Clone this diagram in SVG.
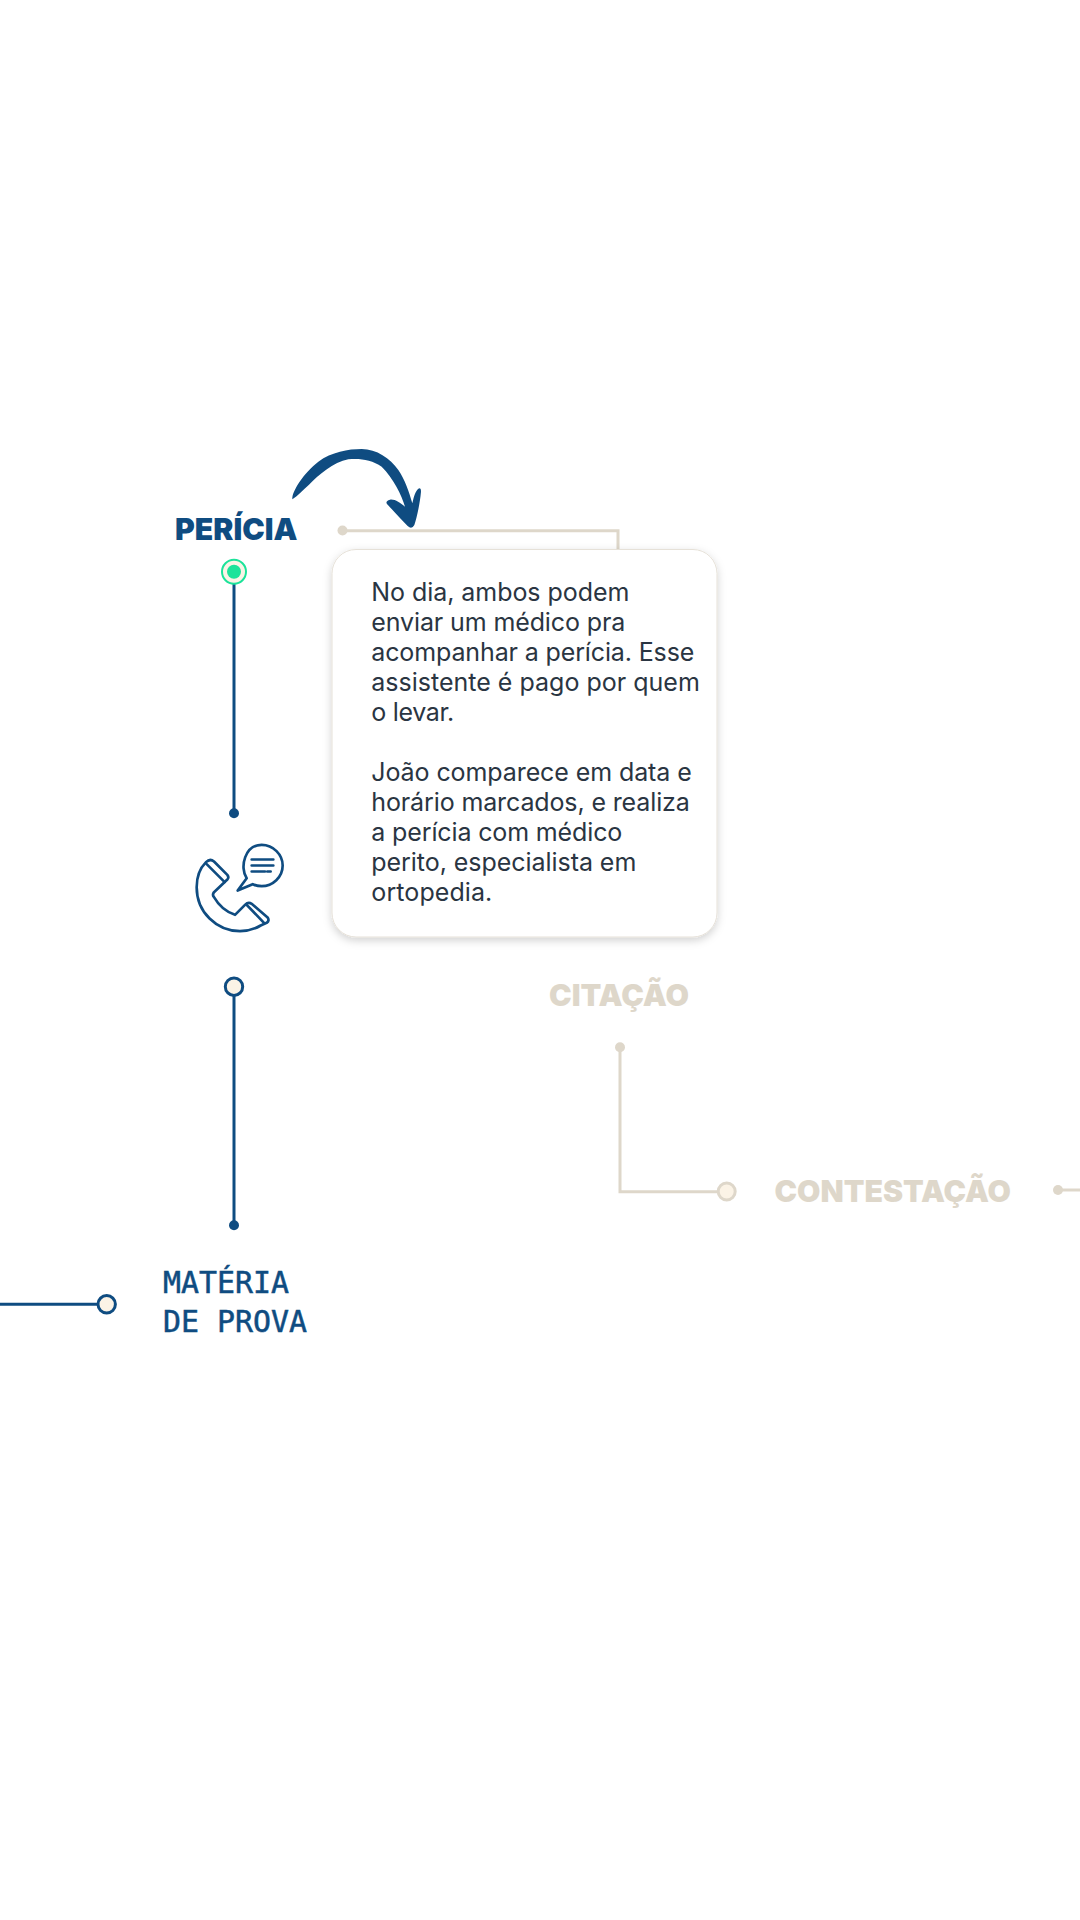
<svg xmlns="http://www.w3.org/2000/svg" width="1080" height="1920" viewBox="0 0 1080 1920">
<defs>
<style>
.blue{stroke:#0F4C81;fill:none}
.sand{stroke:#DED7CA;fill:none}
.ln{stroke-width:3}
.dotb{fill:#0F4C81}
.dots{fill:#DED7CA}
.nodeb{fill:#FBF3E6;stroke:#0F4C81;stroke-width:3}
.nodes{fill:#FBF3E6;stroke:#DED7CA;stroke-width:3}
.head{font-family:"Inter","Liberation Sans",sans-serif;font-weight:900;font-size:30px}
.mono{font-family:"DejaVu Sans Mono","Liberation Mono",monospace;font-size:29.9px;fill:#0F4C81;stroke:#0F4C81;stroke-width:.5}
.body{font-family:"Inter","Liberation Sans",sans-serif;font-size:25px;fill:#2A3542}
</style>
<filter id="sh" x="-10%" y="-10%" width="120%" height="120%"><feDropShadow dx="0" dy="3" stdDeviation="4" flood-color="#000" flood-opacity="0.18"/></filter>
</defs>
<rect width="1080" height="1920" fill="#fff"/>
<g id="connectors">
<path class="blue ln" d="M234 584V813"/>
<path class="blue ln" d="M234 996V1225"/>
<path class="blue ln" d="M0 1304.3H98"/>
<path class="sand ln" d="M343 530.7H618V550"/>
<path class="sand ln" d="M620 1047V1191.7H718"/>
<path class="sand ln" d="M1057 1190H1080"/>
</g>
<g id="pericia">
<text class="head" x="175" y="540" fill="#0F4C81" textLength="122.5" lengthAdjust="spacingAndGlyphs">PERÍCIA</text>
<circle cx="234" cy="571.7" r="12" fill="#FBF3E6" stroke="#1CE39A" stroke-width="2"/>
<circle cx="234" cy="571.7" r="7" fill="#1CE39A"/>
<circle class="dotb" cx="234" cy="813.3" r="5"/>
<circle class="dots" cx="342.5" cy="530.5" r="5"/>
</g>
<g id="arrow" transform="translate(285 440) scale(.33333)">
<path fill="#0F4C81" d="M22 178C20 155 55 100 100 65C140 36 190 27 230 27C275 27 315 55 340 90C360 120 372 155 382 190C386 170 392 152 400 146Q408 142 408 155C405 190 395 235 388 255Q380 270 368 258C350 240 325 212 306 192Q300 183 315 179C330 177 345 188 360 200C350 165 325 115 290 80C260 58 220 54 190 58C145 66 100 106 72 134C52 152 38 168 22 178Z"/>
</g>
<g id="card">
<rect x="332" y="549.5" width="385" height="387.5" rx="24" fill="#fff" stroke="#E6E1D8" stroke-width="1" filter="url(#sh)"/>
<text class="body" x="371.3" y="601" textLength="258">No dia, ambos podem</text>
<text class="body" x="371.3" y="631" textLength="254">enviar um médico pra</text>
<text class="body" x="371.3" y="661" textLength="323">acompanhar a perícia. Esse</text>
<text class="body" x="371.3" y="691" textLength="328.5">assistente é pago por quem</text>
<text class="body" x="371.3" y="721" textLength="83">o levar.</text>
<text class="body" x="371.3" y="781" textLength="320.5">João comparece em data e</text>
<text class="body" x="371.3" y="811" textLength="318.5">horário marcados, e realiza</text>
<text class="body" x="371.3" y="841" textLength="251">a perícia com médico</text>
<text class="body" x="371.3" y="871" textLength="265">perito, especialista em</text>
<text class="body" x="371.3" y="901" textLength="121">ortopedia.</text>
</g>
<g id="phone" transform="translate(190 835.5) scale(.33333)" fill="none" stroke="#0F4C81" stroke-width="8" stroke-linejoin="round" stroke-linecap="round">
<path d="M48 80Q60 68 72 78L112 118Q118 126 112 132L72 170Q66 178 72 185Q95 225 135 238L165 208Q175 198 185 205L232 245Q240 255 230 262L212 270Q185 286 150 287C80 287 20 230 20 155C20 125 30 98 48 80Z"/>
<path d="M50 86L104 140M170 208L222 262"/>
<path d="M170 128C148 95 165 28 215 28C250 28 278 58 278 90C278 125 248 152 215 152C205 152 195 150 188 146L143 165Z"/>
<path d="M185 72H250M185 90H250M185 108H225M232 108H242"/>
</g>
<g id="materia">
<circle class="nodeb" cx="234" cy="986.7" r="8.7"/>
<circle class="dotb" cx="234" cy="1225.3" r="5"/>
<circle class="nodeb" cx="106.7" cy="1304.3" r="8.7"/>
<text class="mono" x="163" y="1293.3">MATÉRIA</text>
<text class="mono" x="163" y="1331.7">DE PROVA</text>
</g>
<g id="citacao">
<text class="head" x="549" y="1006" fill="#DED7CA" textLength="140" lengthAdjust="spacingAndGlyphs">CITAÇÃO</text>
<circle class="dots" cx="620" cy="1047.3" r="5"/>
</g>
<g id="contestacao">
<circle class="nodes" cx="726.7" cy="1191.5" r="8.5"/>
<text class="head" x="774.5" y="1201.7" fill="#DED7CA" textLength="236.5" lengthAdjust="spacingAndGlyphs">CONTESTAÇÃO</text>
<circle class="dots" cx="1058" cy="1190" r="5"/>
</g>
</svg>
